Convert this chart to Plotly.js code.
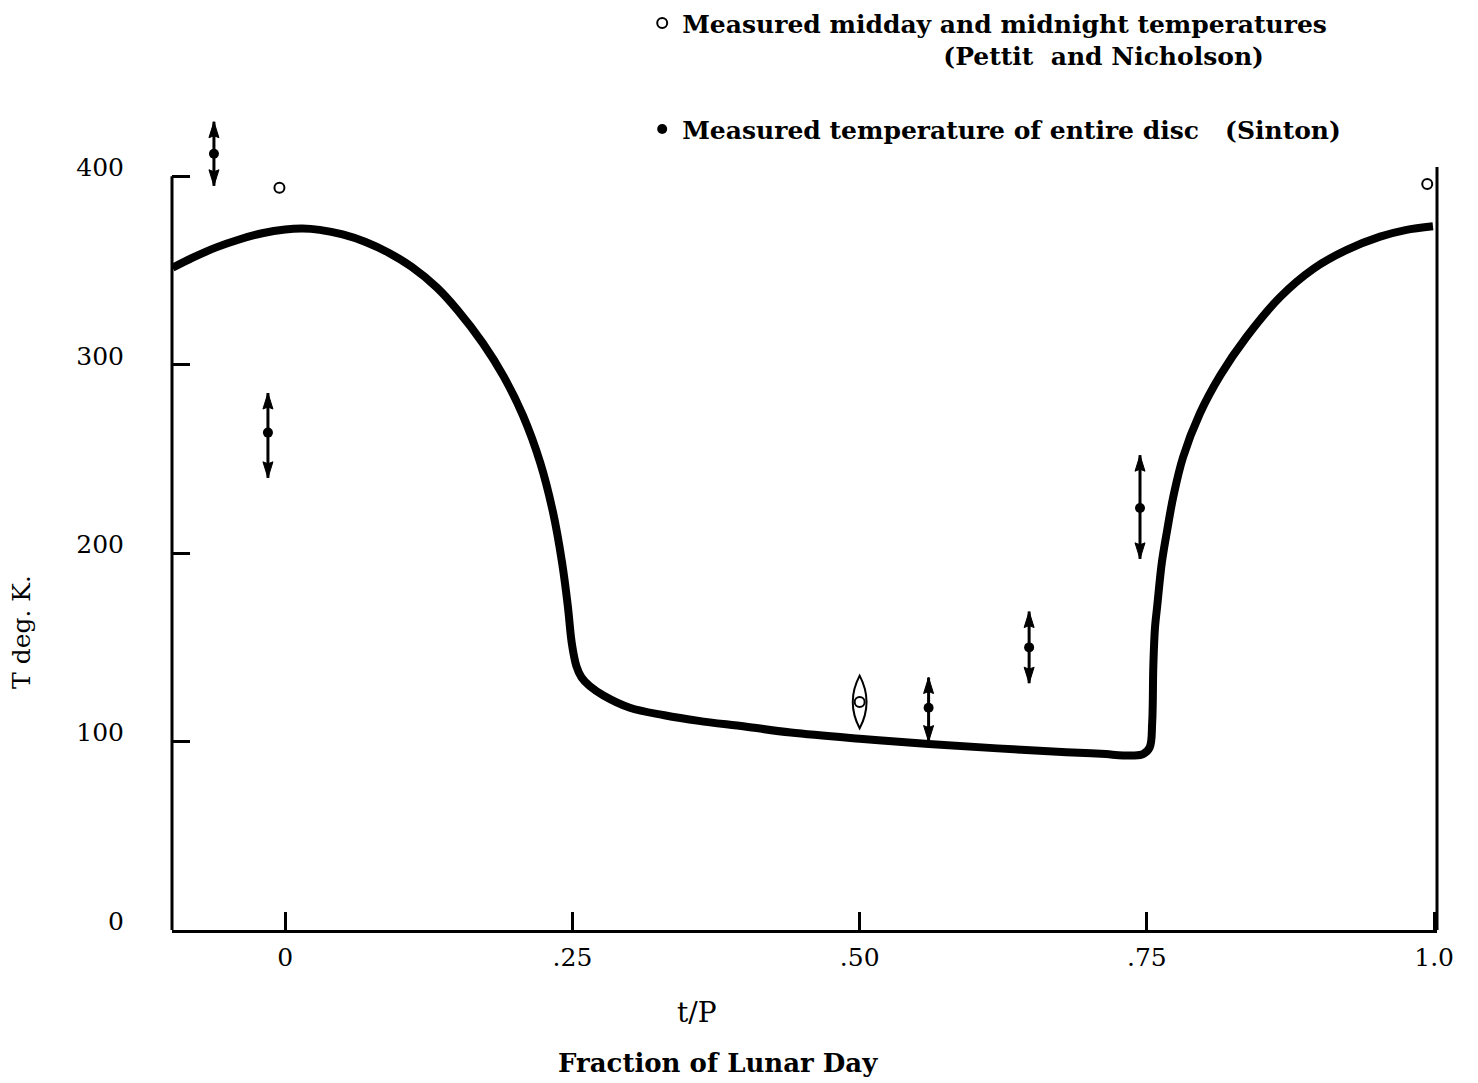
<!DOCTYPE html>
<html>
<head>
<meta charset="utf-8">
<script src="https://cdn.plot.ly/plotly-3.0.1.min.js"></script>
<style>html,body{margin:0;padding:0;background:#fff;}#chart{width:1478px;height:1083px;}</style>
</head>
<body>
<div id="chart"></div>
<script>
// Theoretical lunar surface temperature curve (fraction of lunar day vs T, deg K)
const curveT = [-0.098,-0.08,-0.06,-0.04,-0.02,0.0,0.015,0.03,0.05,0.07,0.09,0.11,0.132,0.150,0.172,0.190,0.207,0.222,0.233,0.241,0.246,0.2495,0.2535,0.258,0.265,0.277,0.300,0.33,0.36,0.40,0.44,0.50,0.56,0.62,0.68,0.71,0.738,0.747,0.7525,0.7546,0.7556,0.757,0.759,0.763,0.7676,0.773,0.7815,0.796,0.814,0.837,0.866,0.895,0.924,0.953,0.975,0.999];
const curveTemp = [351.5,357,362.3,366.5,369.8,371.8,372.3,371.6,369.2,365.2,359.5,352,341,329,311.5,294,273,248,222,195,172,152,140,134,129.5,124.5,118,114,111,108,104.8,101.5,98.7,96.4,94.4,93.5,92.6,93.5,97,110,140,160,172,195,212,230,251,274,294.5,315,336,351,361,368,371.5,373.5];

// Pettit and Nicholson: measured midday and midnight temperatures
const pettitT = [-0.005, 0.5, 0.994];
const pettitTemp = [394, 121, 396];
const pettitErr = [0, 14, 0];

// Sinton: measured temperature of entire disc
const sintonT = [-0.062, -0.015, 0.560, 0.6475, 0.744];
const sintonTemp = [412, 264, 118, 150, 224];
const sintonErrUp = [17, 21, 16, 19, 28];
const sintonErrDown = [17, 24, 18, 19, 27];

// Axis ticks
const xTickVals = [0, 0.25, 0.5, 0.75, 1.0];
const xTickText = ['0', '.25', '.50', '.75', '1.0'];
const yTickVals = [0, 100, 200, 300, 400];
const yTickText = ['0', '100', '200', '300', '400'];
const yRightTickVals = [100, 200, 300];

const X_RANGE = [-0.0985, 1.0025];
const Y_RANGE = [0, 440];

const nb = '\u00a0';
const pettitName = 'Measured midday and midnight temperatures<br>' + nb.repeat(30) + '(Pettit' + nb + nb + 'and Nicholson)';
const sintonName = 'Measured temperature of entire disc' + nb + nb + nb + '(Sinton)';

const serif = 'DejaVu Serif, serif';

const traces = [
  {
    x: curveT, y: curveTemp, type: 'scatter', mode: 'lines',
    line: {color: '#000', width: 8, shape: 'spline', smoothing: 1},
    showlegend: false, hoverinfo: 'skip'
  },
  {
    x: pettitT, y: pettitTemp, type: 'scatter', mode: 'markers',
    name: pettitName, legendgroup: 'a',
    marker: {symbol: 'circle-open', size: 10, color: '#000', line: {width: 2, color: '#000'}},
    cliponaxis: false
  },
  {
    x: sintonT, y: sintonTemp, type: 'scatter', mode: 'markers',
    name: sintonName, legendgroup: 'b',
    marker: {symbol: 'circle', size: 10, color: '#000'},
    error_y: {type: 'data', symmetric: false, array: sintonErrUp, arrayminus: sintonErrDown,
      thickness: 3, width: 0, color: '#000'},
    cliponaxis: false
  }
];

// arrowhead size in pixels, converted to data units through the axis scale
const plotW = 1478 - 172 - 41, plotH = 1083 - 101 - 153;
const pxX = (X_RANGE[1] - X_RANGE[0]) / plotW;
const pxY = (Y_RANGE[1] - Y_RANGE[0]) / plotH;
const headHalfW = 5 * pxX, headLen = 16 * pxY, headNotch = 2 * pxY;

const shapes = [
  {type: 'line', xref: 'paper', yref: 'y', x0: 0, x1: 0, y0: 0, y1: 400, line: {color: '#000', width: 3}},
  {type: 'line', xref: 'paper', yref: 'y', x0: 1, x1: 1, y0: 0, y1: 405, line: {color: '#000', width: 3}}
];
for (let i = 0; i < sintonT.length; i++) {
  const x = sintonT[i];
  const top = sintonTemp[i] + sintonErrUp[i];
  const bot = sintonTemp[i] - sintonErrDown[i];
  shapes.push({type: 'path', xref: 'x', yref: 'y',
    path: `M ${x},${top} L ${x - headHalfW},${top - headLen} L ${x},${top - headLen + headNotch} L ${x + headHalfW},${top - headLen} Z`,
    fillcolor: '#000', line: {color: '#000', width: 1}});
  shapes.push({type: 'path', xref: 'x', yref: 'y',
    path: `M ${x},${bot} L ${x - headHalfW},${bot + headLen} L ${x},${bot + headLen - headNotch} L ${x + headHalfW},${bot + headLen} Z`,
    fillcolor: '#000', line: {color: '#000', width: 1}});
}
for (let i = 0; i < pettitT.length; i++) {
  if (pettitErr[i] > 0) {
    const x = pettitT[i], lo = pettitTemp[i] - pettitErr[i], hi = pettitTemp[i] + pettitErr[i], w = 0.012;
    shapes.push({type: 'path', xref: 'x', yref: 'y',
      path: `M ${x},${lo} Q ${x - w},${pettitTemp[i]} ${x},${hi} Q ${x + w},${pettitTemp[i]} ${x},${lo} Z`,
      line: {color: '#000', width: 2}});
  }
}

const annotations = [
  {text: 't/P', xref: 'paper', yref: 'paper', x: 0.415, y: -0.099, showarrow: false,
    xanchor: 'center', yanchor: 'middle', font: {family: serif, size: 28, color: '#000'}},
  {text: '<b>Fraction of Lunar Day</b>', xref: 'paper', yref: 'paper', x: 0.4316, y: -0.1604, showarrow: false,
    xanchor: 'center', yanchor: 'middle', font: {family: serif, size: 26, color: '#000'}},
  {text: 'T deg. K.', xref: 'paper', yref: 'paper', x: -0.1186, y: 0.3595, showarrow: false,
    textangle: -90, xanchor: 'center', yanchor: 'middle', font: {family: serif, size: 25, color: '#000'}}
];

const layout = {
  width: 1478, height: 1083,
  margin: {l: 172, r: 41, t: 101, b: 153, autoexpand: false},
  paper_bgcolor: '#fff', plot_bgcolor: '#fff',
  font: {family: serif, color: '#000', size: 24},
  showlegend: true,
  legend: {
    x: 0.3717, y: 1.1215, xanchor: 'left', yanchor: 'top',
    traceorder: 'grouped', tracegroupgap: 38, valign: 'top',
    bgcolor: 'rgba(0,0,0,0)', borderwidth: 0,
    font: {family: serif, size: 25, color: '#000', weight: 'bold'}
  },
  xaxis: {
    range: X_RANGE, showgrid: false, zeroline: false,
    showline: true, linewidth: 3, linecolor: '#000',
    ticks: 'inside', ticklen: 18, tickwidth: 3, tickcolor: '#000',
    tickvals: xTickVals, ticktext: xTickText, ticklabelstandoff: 3,
    tickfont: {family: serif, size: 25, color: '#000'}
  },
  yaxis: {
    range: Y_RANGE, showgrid: false, zeroline: false, showline: false,
    ticks: 'inside', ticklen: 18, tickwidth: 3, tickcolor: '#000',
    tickvals: yTickVals, ticktext: yTickText, ticklabelstandoff: 47, ticklabelshift: -9,
    tickfont: {family: serif, size: 25, color: '#000'}
  },
  yaxis2: {
    range: Y_RANGE, overlaying: 'y', side: 'right', anchor: 'x',
    showgrid: false, zeroline: false, showline: false, showticklabels: false,
    ticks: 'inside', ticklen: 16, tickwidth: 3, tickcolor: '#000',
    tickvals: yRightTickVals
  },
  annotations: annotations,
  shapes: shapes
};

Plotly.newPlot('chart', traces, layout, {displayModeBar: false, staticPlot: true});
</script>
</body>
</html>
